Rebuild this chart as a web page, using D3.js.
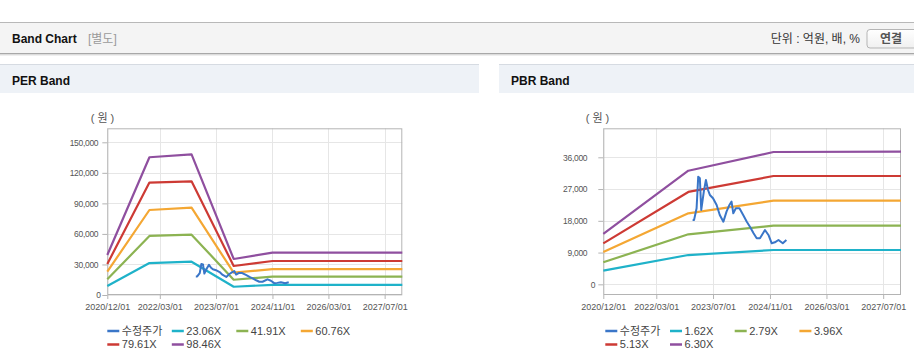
<!DOCTYPE html>
<html><head><meta charset="utf-8">
<script src="https://cdn.jsdelivr.net/npm/d3@7"></script>
<style>
html,body{margin:0;padding:0;background:#fff;}
svg{display:block;font-family:"Liberation Sans","Noto Sans CJK KR",sans-serif;}
</style></head>
<body>
<script>
// ---------------- DATA ----------------
const xTickDates = ["2020-12-01","2022-03-01","2023-07-01","2024-11-01","2026-03-01","2027-07-01"];
const xDomainDates = ["2020-12-01","2027-12-01"];

const perYTicks = [0, 30000, 60000, 90000, 120000, 150000];
const pbrYTicks = [0, 9000, 18000, 27000, 36000];

const perLegend = ["수정주가","23.06X","41.91X","60.76X","79.61X","98.46X"];
const pbrLegend = ["수정주가","1.62X","2.79X","3.96X","5.13X","6.30X"];

const perBandDates = ["2020-12-01","2021-12-01","2022-12-01","2023-12-01","2024-11-01","2027-12-01"];
const per2306 = [8840, 31400, 32700, 8100, 10000, 10000];
const per4191 = [15400, 58000, 59300, 15000, 18000, 18000];
const per6076 = [22900, 83500, 85800, 21900, 25500, 25500];
const per7961 = [30500, 110400, 111700, 28500, 33400, 33400];
const per9846 = [39300, 135300, 138200, 35400, 41600, 41600];

const pbrBandDates = ["2020-12-01","2022-12-01","2024-12-01","2027-12-01"];
const pbr162 = [3870, 8300, 9730, 9730];
const pbr279 = [6240, 14175, 16630, 16630];
const pbr396 = [9170, 20130, 23700, 23700];
const pbr513 = [11620, 26180, 30700, 30700];
const pbr630 = [14270, 32200, 37500, 37600];

const priceDates = ["2023-01-07","2023-01-19","2023-02-10","2023-02-24","2023-03-10","2023-03-22","2023-04-13",
  "2023-05-01","2023-05-19","2023-06-04","2023-07-01","2023-08-01","2023-08-28","2023-09-28","2023-10-25",
  "2023-11-19","2023-12-07","2023-12-22","2024-01-13","2024-02-13","2024-03-16","2024-04-16","2024-05-13",
  "2024-06-13","2024-07-10","2024-08-07","2024-09-19","2024-10-19","2024-11-16","2024-12-13","2025-01-13",
  "2025-02-19","2025-03-22"];
const priceValues = [18240,18200,21550,30510,30050,21070,26260,29580,26740,25330,24380,22490,19660,17760,20600,
  22490,23430,20130,21550,21550,19660,17760,16340,14460,13040,13040,15400,13990,11630,11910,12570,11630,12570];

const colors = ["#3a76c8","#1fb2c9","#8cb352","#f4a733","#cd3a34","#8f4f9f"];

// ---------------- LAYOUT ----------------
const W = 914, H = 364;
const parse = d3.timeParse("%Y-%m-%d");
const fmtX = d3.timeFormat("%Y/%m/%d");

const svg = d3.select("body").append("svg").attr("width", W).attr("height", H);
svg.append("rect").attr("width", W).attr("height", H).attr("fill", "#fff");

// top header
svg.append("rect").attr("x",0).attr("y",22).attr("width",W).attr("height",31).attr("fill","#f4f4f4");
svg.append("line").attr("x1",0).attr("x2",W).attr("y1",22.5).attr("y2",22.5).attr("stroke","#b8b8b8");
svg.append("line").attr("x1",0).attr("x2",W).attr("y1",53.5).attr("y2",53.5).attr("stroke","#a8a8a8");
svg.append("line").attr("x1",0).attr("x2",W).attr("y1",54.5).attr("y2",54.5).attr("stroke","#dcdcdc");
svg.append("line").attr("x1",0).attr("x2",W).attr("y1",55.5).attr("y2",55.5).attr("stroke","#efefef");
svg.append("text").attr("x",12).attr("y",43).attr("font-size",12).attr("font-weight","bold").attr("fill","#111").text("Band Chart");
svg.append("text").attr("x",88).attr("y",43).attr("font-size",12).attr("fill","#9a9a9a").text("[별도]");
svg.append("text").attr("x",860).attr("y",43).attr("font-size",12).attr("fill","#333").attr("text-anchor","end").text("단위 : 억원, 배, %");
const grad = svg.append("defs").append("linearGradient").attr("id","btn").attr("x1",0).attr("x2",0).attr("y1",0).attr("y2",1);
grad.append("stop").attr("offset","0").attr("stop-color","#ffffff");
grad.append("stop").attr("offset","1").attr("stop-color","#f0f0f0");
svg.append("rect").attr("x",867).attr("y",29.5).attr("width",54).attr("height",18.5).attr("rx",3)
  .attr("fill","url(#btn)").attr("stroke","#b5b5b5");
svg.append("text").attr("x",891).attr("y",43).attr("font-size",12).attr("font-weight","bold").attr("fill","#555")
  .attr("text-anchor","middle").text("연결");

// panel headers
[[0,479,"PER Band"],[499,W,"PBR Band"]].forEach(([x0,x1,t])=>{
  svg.append("rect").attr("x",x0).attr("y",64).attr("width",x1-x0).attr("height",29).attr("fill","#eef2f7");
  svg.append("line").attr("x1",x0).attr("x2",x1).attr("y1",64.5).attr("y2",64.5).attr("stroke","#d6dbe2");
  svg.append("text").attr("x",x0+12).attr("y",85).attr("font-size",12).attr("font-weight","bold").attr("fill","#111").text(t);
});

function drawChart(cfg){
  const g = svg.append("g");
  const x = d3.scaleTime().domain(xDomainDates.map(parse)).range([cfg.left, cfg.right]);
  const y = d3.scaleLinear().domain(cfg.yDomain).range([cfg.bottom, cfg.top]);

  // grid
  g.append("g").selectAll("line").data(cfg.yTicks).join("line")
    .attr("x1",cfg.left).attr("x2",cfg.right).attr("y1",d=>Math.round(y(d))+0.5).attr("y2",d=>Math.round(y(d))+0.5)
    .attr("stroke","#e6e6e6");
  g.append("g").selectAll("line").data(xTickDates.map(parse)).join("line")
    .attr("y1",cfg.top).attr("y2",cfg.bottom).attr("x1",d=>Math.round(x(d))+0.5).attr("x2",d=>Math.round(x(d))+0.5)
    .attr("stroke","#e6e6e6");

  // axes
  const ya = g.append("g").attr("transform",`translate(${cfg.left},0)`)
    .call(d3.axisLeft(y).tickValues(cfg.yTicks).tickSize(5).tickPadding(cfg.yPad).tickFormat(d3.format(",")));
  ya.select(".domain").remove();
  ya.selectAll(".tick line").attr("stroke","#b4b4b4");
  ya.selectAll(".tick text").attr("font-size",8.5).attr("fill","#555").attr("font-family","Liberation Sans")
    .attr("letter-spacing","-0.3px")
    .attr("dx", d=> d===0 ? cfg.zeroShift : 0);

  const xa = g.append("g").attr("transform",`translate(0,${cfg.bottom})`)
    .call(d3.axisBottom(x).tickValues(xTickDates.map(parse)).tickSize(4).tickPadding(5).tickFormat(fmtX));
  xa.select(".domain").remove();
  xa.selectAll(".tick line").attr("stroke","#b4b4b4");
  xa.selectAll(".tick text").attr("font-size",9).attr("fill","#555").attr("font-family","Liberation Sans");

  // border
  g.append("rect").attr("x",cfg.left+0.5).attr("y",cfg.top+0.5).attr("width",cfg.right-cfg.left-1).attr("height",cfg.bottom-cfg.top-1)
    .attr("fill","none").attr("stroke","#b4b4b4");

  // unit label
  g.append("text").attr("x",cfg.unitX).attr("y",122).attr("font-size",11).attr("fill","#555")
    .attr("text-anchor","middle").text("( 원 )");

  // bands
  const line = d3.line().x(d=>x(d[0])).y(d=>y(d[1]));
  const bDates = cfg.bandDates.map(parse);
  cfg.bands.forEach((vals,i)=>{
    g.append("path").datum(bDates.map((d,j)=>[d,vals[j]])).attr("d",line)
      .attr("fill","none").attr("stroke",colors[i+1]).attr("stroke-width",2.2).attr("stroke-linejoin","round");
  });
  // price
  g.append("path").datum(priceDates.map((d,j)=>[parse(d),priceValues[j]])).attr("d",line)
    .attr("fill","none").attr("stroke",colors[0]).attr("stroke-width",2).attr("stroke-linejoin","round");

  // legend
  cfg.legend.forEach((t,i)=>{
    const col = i%4, row = Math.floor(i/4);
    const tx = cfg.left + cfg.legStart + col*cfg.legStep;
    const ty = 331 + row*13.5;
    g.append("line").attr("x1",tx-14.5).attr("x2",tx-2.5).attr("y1",ty).attr("y2",ty)
      .attr("stroke",colors[i]).attr("stroke-width",2.5);
    g.append("text").attr("x",tx).attr("y",ty).attr("dy","0.35em").attr("font-size",11).attr("fill","#444").text(t);
  });
}

drawChart({left:107.3,right:402.3,top:128.3,bottom:295,yDomain:[0,163750],yTicks:perYTicks,yPad:4,zeroShift:2.5,
  unitX:102.5,bandDates:perBandDates,bands:[per2306,per4191,per6076,per7961,per9846],legend:perLegend,legStart:14.5,legStep:64.5});
drawChart({left:603.3,right:901,top:128.3,bottom:295,yDomain:[-3024,44220],yTicks:pbrYTicks,yPad:11,zeroShift:8,
  unitX:597.5,bandDates:pbrBandDates,bands:[pbr162,pbr279,pbr396,pbr513,pbr630],legend:pbrLegend,legStart:16.5,legStep:64.7});
</script>
</body></html>
